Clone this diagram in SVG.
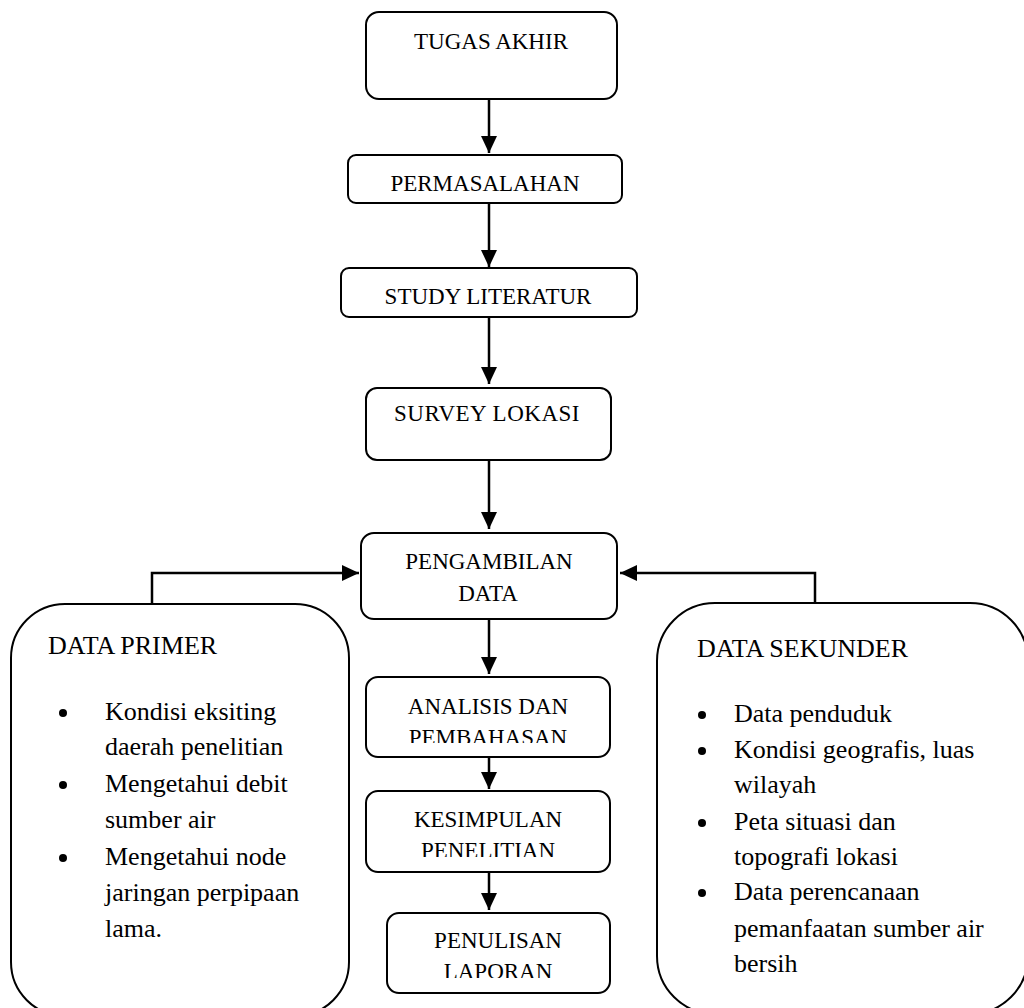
<svg xmlns="http://www.w3.org/2000/svg" width="1024" height="1008" viewBox="0 0 1024 1008">
<style>
.box{fill:#fff;stroke:#000;stroke-width:2}
.t{font-family:"Liberation Serif","Times New Roman",serif;font-size:23px;fill:#000;text-anchor:middle}
.s{font-family:"Liberation Serif","Times New Roman",serif;font-size:26px;fill:#000}
.c{fill:none;stroke:#000;stroke-width:2.5}
</style>
<defs>
<marker id="ah" markerUnits="userSpaceOnUse" markerWidth="17" markerHeight="16" refX="17" refY="8" orient="auto">
<path d="M0,0 L17,8 L0,16 z" fill="#000"/>
</marker>
<clipPath id="cpA"><rect x="366" y="677" width="244" height="66"/></clipPath>
<clipPath id="cpK"><rect x="366" y="791" width="244" height="66"/></clipPath>
<clipPath id="cpP"><rect x="387" y="913" width="223" height="65"/></clipPath>
</defs>
<rect width="1024" height="1008" fill="#fff"/>

<g id="connectors">
<line class="c" x1="489" y1="99" x2="489" y2="153" marker-end="url(#ah)"/>
<line class="c" x1="489" y1="203" x2="489" y2="267" marker-end="url(#ah)"/>
<line class="c" x1="489" y1="317" x2="489" y2="384" marker-end="url(#ah)"/>
<line class="c" x1="489" y1="460" x2="489" y2="529" marker-end="url(#ah)"/>
<line class="c" x1="489" y1="619" x2="489" y2="674" marker-end="url(#ah)"/>
<line class="c" x1="489" y1="757" x2="489" y2="789" marker-end="url(#ah)"/>
<line class="c" x1="489" y1="872" x2="489" y2="910" marker-end="url(#ah)"/>
<path class="c" d="M152,604 V573 H359" marker-end="url(#ah)"/>
<path class="c" d="M815,603 V573 H620" marker-end="url(#ah)"/>
</g>

<g id="tugas-akhir">
<rect class="box" x="366" y="12" width="251" height="87" rx="13"/>
<text class="t" x="491" y="49" font-size="24">TUGAS AKHIR</text>
</g>
<g id="permasalahan">
<rect class="box" x="348" y="155" width="274" height="48" rx="8"/>
<text class="t" x="485" y="191">PERMASALAHAN</text>
</g>
<g id="study-literatur">
<rect class="box" x="341" y="268" width="296" height="49" rx="8"/>
<text class="t" x="488" y="304">STUDY LITERATUR</text>
</g>
<g id="survey-lokasi">
<rect class="box" x="366" y="388" width="245" height="72" rx="11"/>
<text class="t" x="487" y="421" font-size="20" letter-spacing="0.5">SURVEY LOKASI</text>
</g>
<g id="pengambilan-data">
<rect class="box" x="361" y="533" width="256" height="86" rx="13"/>
<text class="t" x="489" y="569">PENGAMBILAN</text>
<text class="t" x="488" y="601">DATA</text>
</g>
<g id="analisis">
<rect class="box" x="366" y="677" width="244" height="80" rx="12"/>
<g clip-path="url(#cpA)">
<text class="t" x="488" y="714">ANALISIS DAN</text>
<text class="t" x="488" y="745">PEMBAHASAN</text>
</g>
</g>
<g id="kesimpulan">
<rect class="box" x="366" y="791" width="244" height="81" rx="12"/>
<g clip-path="url(#cpK)">
<text class="t" x="488" y="827">KESIMPULAN</text>
<text class="t" x="488" y="858">PENELITIAN</text>
</g>
</g>
<g id="penulisan">
<rect class="box" x="387" y="913" width="223" height="80" rx="12"/>
<g clip-path="url(#cpP)">
<text class="t" x="498" y="948">PENULISAN</text>
<text class="t" x="498" y="979">LAPORAN</text>
</g>
</g>

<g id="data-primer">
<rect class="box" x="11" y="604" width="338" height="412" rx="54"/>
<text class="s" x="48" y="654">DATA PRIMER</text>
<circle cx="63" cy="713" r="4"/>
<circle cx="63" cy="785" r="4"/>
<circle cx="63" cy="858" r="4"/>
<text class="s" x="105" y="720">Kondisi eksiting</text>
<text class="s" x="105" y="755">daerah penelitian</text>
<text class="s" x="105" y="792">Mengetahui debit</text>
<text class="s" x="105" y="828">sumber air</text>
<text class="s" x="105" y="865">Mengetahui node</text>
<text class="s" x="105" y="901">jaringan perpipaan</text>
<text class="s" x="105" y="937">lama.</text>
</g>

<g id="data-sekunder">
<rect class="box" x="657" y="603" width="371" height="411" rx="58"/>
<text class="s" x="697" y="657">DATA SEKUNDER</text>
<circle cx="702" cy="715" r="4"/>
<circle cx="702" cy="751" r="4"/>
<circle cx="702" cy="823" r="4"/>
<circle cx="702" cy="893" r="4"/>
<text class="s" x="734" y="722">Data penduduk</text>
<text class="s" x="734" y="758">Kondisi geografis, luas</text>
<text class="s" x="734" y="793">wilayah</text>
<text class="s" x="734" y="830">Peta situasi dan</text>
<text class="s" x="734" y="865">topografi lokasi</text>
<text class="s" x="734" y="900">Data perencanaan</text>
<text class="s" x="734" y="937">pemanfaatan sumber air</text>
<text class="s" x="734" y="972">bersih</text>
</g>
</svg>
